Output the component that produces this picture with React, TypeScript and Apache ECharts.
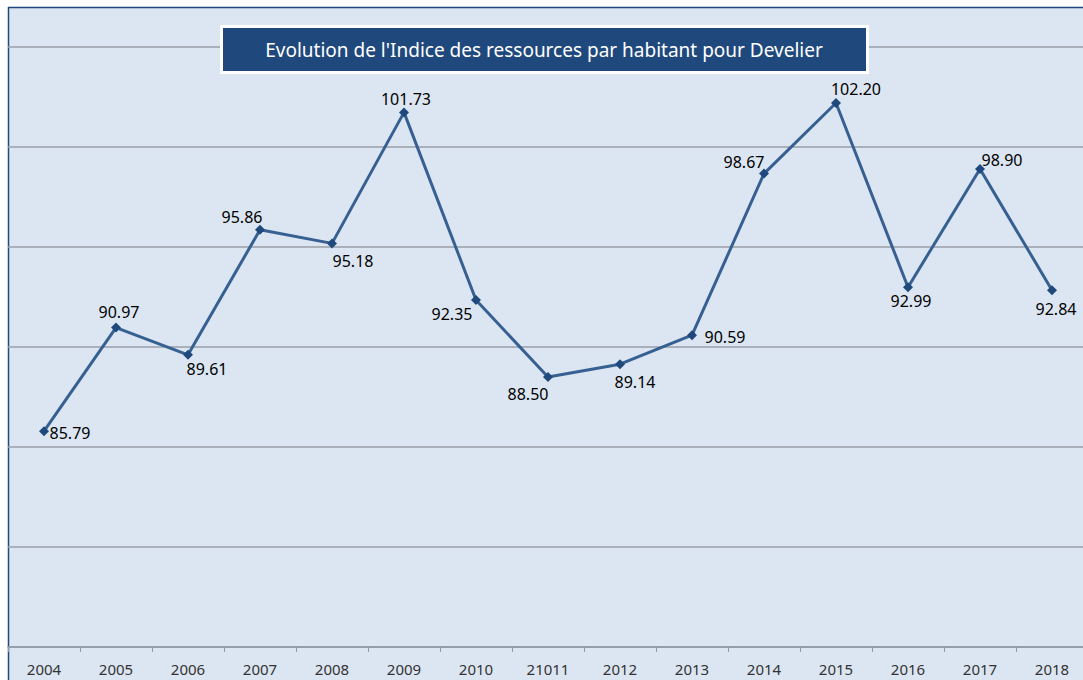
import React, { useEffect, useRef } from "react";
import * as echarts from "echarts";

const titleText = "Evolution de l'Indice des ressources par habitant pour Develier";
const categories = ["2004", "2005", "2006", "2007", "2008", "2009", "2010", "21011", "2012", "2013", "2014", "2015", "2016", "2017", "2018"];
const values = [85.79, 90.97, 89.61, 95.86, 95.18, 101.73, 92.35, 88.5, 89.14, 90.59, 98.67, 102.2, 92.99, 98.9, 92.84];
const labelOffsets: [number, number][] = [
  [26, 2], [3, -16], [19, 14], [-18, -13], [21, 18], [2, -13], [-24, 14], [-20, 17],
  [15, 18], [33, 2], [-20, -12], [20, -14], [3, 14], [22, -9], [4, 19],
];
const yMin = 75;
const yMax = 105;
const yInterval = 5;

const FONT = "'Noto Sans', sans-serif";

export default function App() {
  const ref = useRef<HTMLDivElement>(null);
  useEffect(() => {
    if (!ref.current) return;
    const chart = echarts.init(ref.current, undefined, { renderer: "svg" });
    chart.setOption({
      animation: false,
      backgroundColor: "#ffffff",
      grid: { left: 8, top: 47, width: 1080, height: 600, show: false },
      graphic: [
        {
          type: "rect",
          z: -10,
          silent: true,
          shape: { x: 8.5, y: 7.5, width: 1100, height: 700 },
          style: { fill: "#dce6f2", stroke: "#1f497d", lineWidth: 1.5 },
        },
        {
          type: "rect",
          z: 100,
          shape: { x: 221.5, y: 26.5, width: 646, height: 46 },
          style: { fill: "#1f497d", stroke: "#ffffff", lineWidth: 3 },
        },
        {
          type: "text",
          z: 101,
          x: 544,
          y: 49.5,
          style: {
            text: titleText,
            fill: "#ffffff",
            font: `19px ${FONT}`,
            align: "center",
            verticalAlign: "middle",
          },
        },
      ],
      xAxis: {
        type: "category",
        data: categories,
        boundaryGap: true,
        axisLine: { lineStyle: { color: "#8e9aa8", width: 1.5 } },
        axisTick: { show: true, length: 5, lineStyle: { color: "#8e9aa8" } },
        axisLabel: { color: "#333333", fontFamily: FONT, fontSize: 15, margin: 14 },
      },
      yAxis: {
        type: "value",
        min: yMin,
        max: yMax,
        interval: yInterval,
        axisLabel: { show: false },
        axisLine: { show: false },
        axisTick: { show: false },
        splitLine: { lineStyle: { color: "#9a9ea6", width: 1.5 } },
      },
      series: [
        {
          type: "line",
          data: values.map((v, i) => ({
            value: v,
            label: { offset: labelOffsets[i] },
          })),
          symbol: "diamond",
          symbolSize: 10,
          itemStyle: { color: "#1f497d" },
          lineStyle: { color: "#376092", width: 3 },
          label: {
            show: true,
            position: "inside",
            formatter: (p: any) => Number(p.value).toFixed(2),
            color: "#000000",
            fontFamily: FONT,
            fontSize: 16,
          },
        },
      ],
    });
    return () => chart.dispose();
  }, []);
  return (
    <div style={{ position: "absolute", left: 0, top: 0, width: 1083, height: 680, overflow: "hidden" }}>
      <div ref={ref} style={{ width: 1110, height: 700 }} />
    </div>
  );
}
